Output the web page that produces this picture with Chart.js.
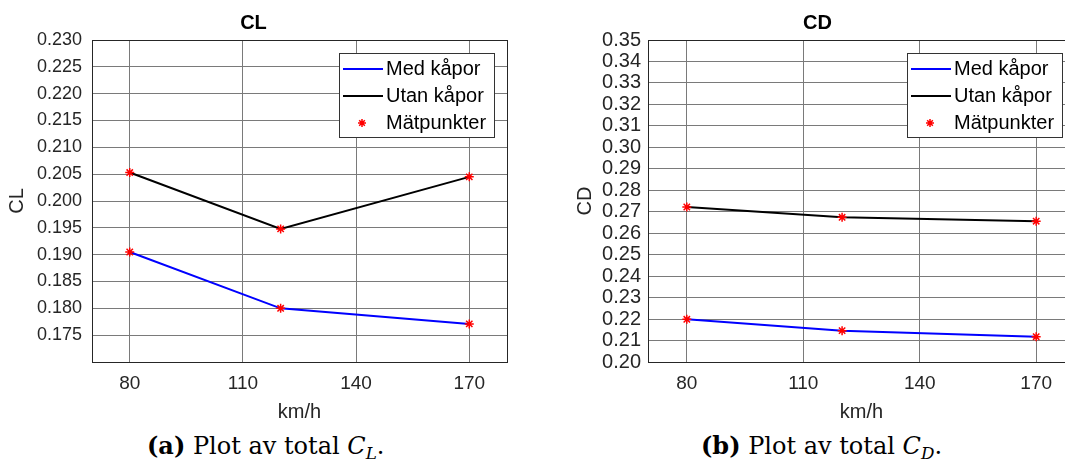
<!DOCTYPE html>
<html>
<head>
<meta charset="utf-8">
<script src="https://cdn.jsdelivr.net/npm/chart.js@4.4.1/dist/chart.umd.min.js"></script>
<style>
html, body { margin: 0; padding: 0; background: #fff; width: 1065px; height: 466px; overflow: hidden; }
.box { position: absolute; top: 0; height: 430px; }
#left { left: 0; width: 530px; }
#right { left: 560px; width: 560px; }
.cap { position: absolute; top: 434px; line-height: 24px; font-family: "DejaVu Serif", "Liberation Serif", serif; font-size: 24px; color: #000; white-space: nowrap; }
.cap sub { font-size: 70%; vertical-align: -0.3em; line-height: 0; }
</style>
</head>
<body>
<div class="box" id="left"><canvas id="cl"></canvas></div>
<div class="box" id="right"><canvas id="cd"></canvas></div>
<div class="cap" style="left:147px"><b>(a)</b> Plot av total <i>C<sub>L</sub></i>.</div>
<div class="cap" style="left:701px"><b>(b)</b> Plot av total <i>C<sub>D</sub></i>.</div>
<script>
// speeds (km/h) and measured coefficients
const speeds = [80, 120, 170];
const xTicks = [80, 110, 140, 170];

const clMed = [0.1905, 0.1800, 0.1771];
const clUtan = [0.2053, 0.1948, 0.2045];
const cdMed = [0.2199, 0.2146, 0.2118];
const cdUtan = [0.2722, 0.2674, 0.2656];

const clTicks = [0.170, 0.175, 0.180, 0.185, 0.190, 0.195, 0.200, 0.205, 0.210, 0.215, 0.220, 0.225, 0.230];
const clTickLabels = ['', '0.175', '0.180', '0.185', '0.190', '0.195', '0.200', '0.205', '0.210', '0.215', '0.220', '0.225', '0.230'];
const cdTicks = [0.20, 0.21, 0.22, 0.23, 0.24, 0.25, 0.26, 0.27, 0.28, 0.29, 0.30, 0.31, 0.32, 0.33, 0.34, 0.35];
const cdTickLabels = ['0.20', '0.21', '0.22', '0.23', '0.24', '0.25', '0.26', '0.27', '0.28', '0.29', '0.30', '0.31', '0.32', '0.33', '0.34', '0.35'];

const seriesNames = ['Med kåpor', 'Utan kåpor', 'Mätpunkter'];

const FONT = '"Liberation Sans", Arial, sans-serif';
const gridColor = '#7a7a7a';
const axisText = '#262626';

// draws the axes box and a MATLAB style legend
const boxLegend = {
    id: 'boxLegend',
    afterDraw(chart) {
        const ctx = chart.ctx;
        const a = chart.chartArea;
        ctx.save();
        ctx.strokeStyle = '#262626';
        ctx.lineWidth = 1;
        ctx.strokeRect(Math.round(a.left) + 0.5, Math.round(a.top) + 0.5,
            Math.round(a.right - a.left), Math.round(a.bottom - a.top));

        const w = 155, h = 84;
        const x0 = Math.round(a.right - 13 - w), y0 = Math.round(a.top + 13);
        ctx.fillStyle = '#fff';
        ctx.fillRect(x0, y0, w, h);
        ctx.strokeStyle = '#333';
        ctx.strokeRect(x0 + 0.5, y0 + 0.5, w, h);

        const rows = [16, 43, 70];
        ctx.font = '20px ' + FONT;
        ctx.textBaseline = 'middle';
        ctx.textAlign = 'left';
        chart.data.datasets.forEach(function(ds, i) {
            const y = y0 + rows[i];
            if (ds.showLine) {
                ctx.strokeStyle = ds.borderColor;
                ctx.lineWidth = ds.borderWidth;
                ctx.beginPath();
                ctx.moveTo(x0 + 4, y);
                ctx.lineTo(x0 + 44, y);
                ctx.stroke();
            } else {
                ctx.strokeStyle = ds.borderColor;
                ctx.fillStyle = ds.borderColor;
                ctx.lineWidth = ds.borderWidth;
                Chart.helpers.drawPoint(ctx, { pointStyle: 'star', radius: 4, borderWidth: ds.borderWidth, rotation: 0 }, x0 + 23, y);
            }
            ctx.fillStyle = '#000';
            ctx.fillText(ds.label, x0 + 47, y);
        });
        ctx.restore();
    }
};

function makeChart(id, title, med, utan, yTicks, yLabels, g) {
    const pts = [];
    for (let i = 0; i < speeds.length; i++) {
        pts.push({ x: speeds[i], y: med[i] });
        pts.push({ x: speeds[i], y: utan[i] });
    }
    const ctx = document.getElementById(id).getContext('2d');
    return new Chart(ctx, {
        type: 'scatter',
        data: {
            datasets: [{
                label: seriesNames[0],
                data: speeds.map((x, i) => ({ x: x, y: med[i] })),
                showLine: true,
                borderColor: '#0000ff',
                borderWidth: 2,
                pointRadius: 0,
                order: 1
            }, {
                label: seriesNames[1],
                data: speeds.map((x, i) => ({ x: x, y: utan[i] })),
                showLine: true,
                borderColor: '#000000',
                borderWidth: 2,
                pointRadius: 0,
                order: 1
            }, {
                label: seriesNames[2],
                data: pts,
                showLine: false,
                pointStyle: 'star',
                pointRadius: 4.5,
                borderColor: '#ff0000',
                backgroundColor: '#ff0000',
                borderWidth: 1.5,
                order: 0
            }]
        },
        options: {
            responsive: true,
            maintainAspectRatio: false,
            animation: false,
            layout: { padding: { left: 0, top: 0, right: g.padRight, bottom: 0 } },
            plugins: {
                legend: { display: false },
                tooltip: { enabled: false },
                title: {
                    display: true,
                    text: title,
                    color: '#000',
                    font: { family: FONT, size: 20, weight: 'bold', lineHeight: 1.2 },
                    padding: { top: 11, bottom: 5 }
                }
            },
            scales: {
                x: {
                    type: 'linear',
                    min: 70,
                    max: 180,
                    afterBuildTicks: s => { s.ticks = xTicks.map(v => ({ value: v })); },
                    afterFit: s => { s.height = 68; },
                    grid: { color: gridColor, lineWidth: 1, drawTicks: false },
                    border: { display: false },
                    ticks: { autoSkip: false, color: axisText, padding: 10, maxRotation: 0,
                        font: { family: FONT, size: 19 } },
                    title: { display: true, text: 'km/h', color: axisText,
                        font: { family: FONT, size: 20, lineHeight: 1.2 }, padding: { top: 0, bottom: 6 } }
                },
                y: {
                    min: yTicks[0],
                    max: yTicks[yTicks.length - 1],
                    afterBuildTicks: s => { s.ticks = yTicks.map(v => ({ value: v })); },
                    afterFit: s => { s.width = g.yWidth; },
                    grid: { color: gridColor, lineWidth: 1, drawTicks: false },
                    border: { display: false },
                    ticks: { autoSkip: false, color: axisText, padding: g.tickPad,
                        font: { family: FONT, size: g.yFont },
                        callback: (v, i) => yLabels[i] },
                    title: { display: true, text: title, color: axisText,
                        font: { family: FONT, size: 20, lineHeight: 1.2 }, padding: { top: g.titlePad, bottom: 0 } }
                }
            }
        },
        plugins: [boxLegend]
    });
}

makeChart('cl', 'CL', clMed, clUtan, clTicks, clTickLabels, { padRight: 23, yWidth: 92, tickPad: 10, yFont: 18, titlePad: 5.5 });
makeChart('cd', 'CD', cdMed, cdUtan, cdTicks, cdTickLabels, { padRight: 45, yWidth: 88, tickPad: 7, yFont: 20, titlePad: 13.5 });
</script>
</body>
</html>
